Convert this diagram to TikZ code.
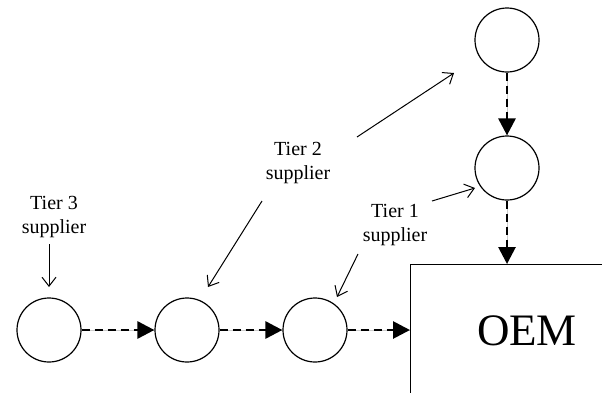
\documentclass[tikz,border=0pt]{standalone}
\usepackage{fontspec}
\setmainfont{Liberation Serif}
\usetikzlibrary{arrows.meta}
\begin{document}
\begin{tikzpicture}[x=1pt,y=-1pt,
  firm/.style={circle,draw,line width=1.2pt,minimum size=64pt,inner sep=0pt},
  flow/.style={line width=2.8pt,dash pattern=on 8pt off 5pt,-{Triangle[length=17pt,width=17pt]}},
  flowbg/.style={line width=0.6pt,gray!40},
  note/.style={line width=1pt,-{Straight Barb[length=9pt,width=14pt,line width=1pt]}},
  lbl/.style={align=center,font=\fontsize{20pt}{24pt}\selectfont,inner sep=0pt}]
\useasboundingbox (0,0) rectangle (602,392);
\begin{scope}
\clip (0,0) rectangle (602,392);
\node[draw,line width=1.2pt,minimum width=220pt,minimum height=160pt,anchor=north west,inner sep=0pt] (oem) at (410,264) {};
\end{scope}
\node[font=\fontsize{45pt}{48pt}\selectfont] (oemt) at (527,331) {OEM};
\node[firm] (c1) at (49,330) {};
\node[firm] (c2) at (187,330) {};
\node[firm] (c3) at (315,330) {};
\node[firm] (u1) at (507,40) {};
\node[firm] (u2) at (507,168) {};
\coordinate (oemleft) at (410,330);
\coordinate (oemtop) at (507,264);
\foreach \a/\b in {c1/c2,c2/c3}{
  \draw[flowbg] (\a.east) -- (\b.west);
  \draw[flow] (\a.east) -- (\b.west);
}
\draw[flowbg] (c3.east) -- (oemleft);
\draw[flow] (c3.east) -- (oemleft);
\draw[flowbg] (u1.south) -- (u2.north);
\draw[flow] (u1.south) -- (u2.north);
\draw[flowbg] (u2.south) -- (oemtop);
\draw[flow] (u2.south) -- (oemtop);
\node[lbl] (t3) at (54,217) {Tier 3\\supplier};
\node[lbl] (t2) at (298,163) {Tier 2\\supplier};
\node[lbl] (t1) at (395,225) {Tier 1\\supplier};
\coordinate (t3a) at (49,244);
\coordinate (t3b) at (49,287);
\draw[note] (t3a) -- (t3b);
\coordinate (t2a) at (357,137);
\coordinate (t2b) at (454,73);
\draw[note] (t2a) -- (t2b);
\coordinate (t2c) at (262,201);
\coordinate (t2d) at (208,287);
\draw[note] (t2c) -- (t2d);
\coordinate (t1a) at (358,254);
\coordinate (t1b) at (337,297);
\draw[note] (t1a) -- (t1b);
\coordinate (t1c) at (432,201);
\coordinate (t1d) at (475,188);
\draw[note] (t1c) -- (t1d);
\end{tikzpicture}
\end{document}
